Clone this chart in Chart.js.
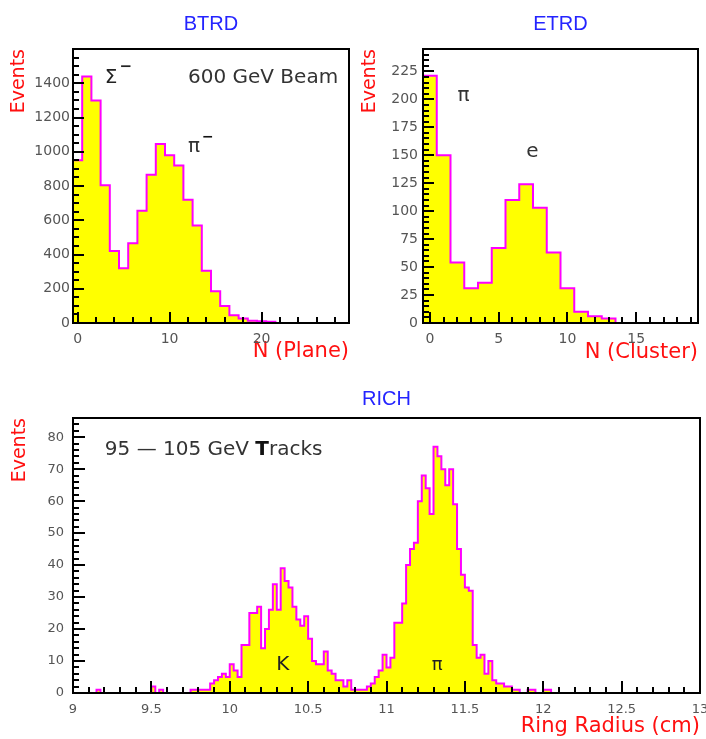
<!DOCTYPE html>
<html>
<head>
<meta charset="utf-8">
<script src="https://cdn.jsdelivr.net/npm/chart.js@4/dist/chart.umd.min.js"></script>
<style>
  html, body { margin: 0; padding: 0; background: #fff; overflow: hidden; }
  #page { position: relative; width: 706px; height: 739px; overflow: hidden; background: #fff; }
  #page canvas { position: absolute; }
</style>
</head>
<body>
<div id="page">
  <canvas id="btrd" width="353" height="370" style="left:0;top:0"></canvas>
  <canvas id="etrd" width="353" height="370" style="left:353px;top:0"></canvas>
  <canvas id="rich" width="726" height="369" style="left:0;top:370px"></canvas>
</div>
<script>
// ===============================
// DATA
// ===============================

// BTRD: number of planes fired, one bin per integer
const btrdBins = [0, 1, 2, 3, 4, 5, 6, 7, 8, 9, 10, 11, 12, 13, 14, 15, 16, 17, 18, 19, 20, 21];
const btrdCounts = [950, 1440, 1300, 805, 420, 320, 465, 655, 865, 1045, 980, 920, 720, 570, 305, 185, 100, 45, 27, 13, 10, 8];
const btrdXTicks = [0, 10, 20];
const btrdYTicks = [0, 200, 400, 600, 800, 1000, 1200, 1400];

// ETRD: number of clusters
const etrdBins = [0, 1, 2, 3, 4, 5, 6, 7, 8, 9, 10, 11, 12, 13];
const etrdCounts = [221, 150, 54, 31, 36, 67, 110, 124, 103, 63, 31, 10, 6, 4];
const etrdXTicks = [0, 5, 10, 15];
const etrdYTicks = [0, 25, 50, 75, 100, 125, 150, 175, 200, 225];

// RICH: ring radius, 0.025 cm bins from 9 to 13 cm
const richLowEdge = 9.0;
const richBinWidth = 0.025;
const richCounts = [
  0, 0, 0, 0, 0, 0, 1, 0, 0, 0,       // 9.00
  0, 0, 0, 0, 0, 0, 0, 0, 0, 0,       // 9.25
  2, 0, 1, 0, 0, 0, 0, 0, 0, 0,       // 9.50
  1, 1, 1, 1, 1, 3, 4, 5, 6, 5,       // 9.75
  9, 7, 5, 15, 15, 25, 25, 27, 14, 20, // 10.00
  26, 34, 26, 39, 35, 33, 27, 23, 21, 24, // 10.25
  17, 10, 9, 9, 13, 7, 6, 4, 4, 2,    // 10.50
  4, 1, 1, 1, 1, 2, 3, 5, 7, 12,      // 10.75
  8, 11, 22, 22, 28, 40, 45, 47, 60, 68, // 11.00
  64, 56, 77, 74, 70, 65, 70, 59, 45, 37, // 11.25
  33, 32, 15, 11, 12, 6, 10, 4, 3, 3, // 11.50
  2, 2, 1, 1, 0, 0, 1, 1, 0, 0,       // 11.75
  1, 1, 0, 0, 0, 0, 0, 0, 0, 0,       // 12.00
  0, 0, 0, 0, 0, 0, 0, 0, 0, 0,       // 12.25
  0, 0, 0, 0, 0, 0, 0, 0, 0, 0,       // 12.50
  0, 0, 0, 0, 0, 0, 0, 0, 0, 0        // 12.75
];
const richBins = richCounts.map((c, i) => richLowEdge + (i + 0.5) * richBinWidth);
const richXTicks = [9, 9.5, 10, 10.5, 11, 11.5, 12, 12.5, 13];
const richYTicks = [0, 10, 20, 30, 40, 50, 60, 70, 80];

// ===============================
// HELPERS
// ===============================

Chart.defaults.font.family = '"DejaVu Sans"';

// bin centers + counts -> left edges for a stepped line
function histPoints(centers, counts, width) {
  const pts = centers.map((c, i) => ({ x: c - width / 2, y: counts[i] }));
  pts.push({ x: centers[centers.length - 1] + width / 2, y: 0 });
  return pts;
}

function eachStep(min, max, step, fn) {
  for (let k = Math.ceil(min / step - 1e-6); k * step <= max + 1e-6; k++) {
    fn(k * step);
  }
}

function isMultiple(v, m) {
  return Math.abs(v / m - Math.round(v / m)) < 1e-6;
}

// frame + ticks pointing into the plot (bottom and left only)
const insideTicks = {
  id: 'insideTicks',
  afterDatasetsDraw(chart, args, o) {
    const { ctx, chartArea: a, scales } = chart;
    const x = scales.x, y = scales.y;
    ctx.save();
    ctx.strokeStyle = '#000';
    ctx.lineWidth = 2;
    ctx.beginPath();
    eachStep(x.min, x.max, o.xMinor, v => {
      const len = isMultiple(v, o.xMajor) ? o.majorLen : o.minorLen;
      const px = Math.round(x.getPixelForValue(v));
      ctx.moveTo(px, a.bottom);
      ctx.lineTo(px, a.bottom - len);
    });
    eachStep(y.min, y.max, o.yMinor, v => {
      const len = isMultiple(v, o.yMajor) ? o.majorLen : o.minorLen;
      const py = Math.round(y.getPixelForValue(v));
      ctx.moveTo(a.left, py);
      ctx.lineTo(a.left + len, py);
    });
    ctx.stroke();
    ctx.strokeRect(a.left, a.top, a.right - a.left, a.bottom - a.top);
    ctx.restore();
  }
};

// free text placed at data coordinates
const textNotes = {
  id: 'textNotes',
  afterDraw(chart, args, o) {
    const { ctx, scales: { x, y } } = chart;
    ctx.save();
    ctx.textBaseline = 'middle';
    ctx.textAlign = 'left';
    (o.items || []).forEach(n => {
      let cx = x.getPixelForValue(n.x);
      const cy = y.getPixelForValue(n.y);
      n.parts.forEach(p => {
        ctx.font = p.font;
        ctx.fillStyle = p.color || '#333';
        ctx.fillText(p.text, cx + (p.dx || 0), cy + (p.dy || 0));
        cx += ctx.measureText(p.text).width + (p.dx || 0);
      });
    });
    ctx.restore();
  }
};

function makeHist(id, o) {
  return new Chart(document.getElementById(id), {
    type: 'line',
    data: {
      datasets: [{
        data: histPoints(o.bins, o.counts, o.binWidth),
        stepped: true,
        borderColor: '#ff00ff',
        borderWidth: 2,
        backgroundColor: '#ffff00',
        fill: 'origin',
        pointRadius: 0,
        tension: 0
      }]
    },
    plugins: [insideTicks, textNotes],
    options: {
      responsive: false,
      animation: false,
      devicePixelRatio: 1,
      events: [],
      layout: { padding: { left: 0, right: o.padRight, top: 0, bottom: 0 } },
      plugins: {
        legend: { display: false },
        tooltip: { enabled: false },
        title: {
          display: true,
          text: o.title,
          color: '#2424ff',
          fullSize: false,
          font: { family: '"Liberation Sans"', size: 20, weight: 'normal', lineHeight: 1 },
          padding: { top: o.titleTop, bottom: o.titleBottom }
        },
        insideTicks: o.ticks,
        textNotes: { items: o.notes }
      },
      scales: {
        x: {
          type: 'linear',
          min: o.xMin,
          max: o.xMax,
          afterFit: s => { s.height = o.xAxisHeight; },
          afterBuildTicks: s => { s.ticks = o.xTicks.map(v => ({ value: v })); },
          grid: { display: false, drawTicks: false },
          border: { display: false },
          ticks: {
            color: '#555',
            font: { size: o.tickSize },
            padding: o.xTickPad,
            maxRotation: 0,
            autoSkip: false,
            callback: v => String(v)
          },
          title: {
            display: true,
            text: o.xTitle,
            align: 'end',
            color: '#ff1010',
            font: { size: 21, lineHeight: 1 },
            padding: { top: 0, bottom: o.xTitlePad }
          }
        },
        y: {
          type: 'linear',
          min: 0,
          max: o.yMax,
          afterFit: s => { s.width = o.yAxisWidth; },
          afterBuildTicks: s => { s.ticks = o.yTicks.map(v => ({ value: v })); },
          grid: { display: false, drawTicks: false },
          border: { display: false },
          ticks: {
            color: '#555',
            font: { size: o.tickSize },
            padding: o.yTickPad,
            autoSkip: false,
            callback: v => String(v)
          },
          title: {
            display: true,
            text: 'Events',
            align: 'end',
            color: '#ff1010',
            font: { size: 19, lineHeight: 1 },
            padding: { top: o.yTitlePad, bottom: 0 }
          }
        }
      }
    }
  });
}

const NOTE_FONT = '20px "DejaVu Sans"';

// ===============================
// BTRD
// ===============================
makeHist('btrd', {
  title: 'BTRD', titleTop: 14, titleBottom: 15,
  bins: btrdBins, counts: btrdCounts, binWidth: 1,
  xMin: -0.5, xMax: 29.5, yMax: 1600,
  xTicks: btrdXTicks, yTicks: btrdYTicks,
  xAxisHeight: 47, yAxisWidth: 73, padRight: 4,
  tickSize: 14, xTickPad: 8, yTickPad: 3,
  xTitle: 'N (Plane)', xTitlePad: 7.5, yTitlePad: 9.5,
  ticks: { xMinor: 2, xMajor: 10, yMinor: 50, yMajor: 200, majorLen: 11, minorLen: 6 },
  notes: [
    { x: 2.95, y: 1434, parts: [
      { text: 'Σ', font: NOTE_FONT, color: '#222' },
      { text: '−', font: 'bold 15px "DejaVu Sans"', color: '#222', dx: 2, dy: -10 }
    ] },
    { x: 12.0, y: 1431, parts: [{ text: '600 GeV Beam', font: NOTE_FONT }] },
    { x: 12.0, y: 1028, parts: [
      { text: 'π', font: NOTE_FONT },
      { text: '−', font: 'bold 14px "DejaVu Sans"', color: '#111', dx: 2, dy: -10 }
    ] }
  ]
});

// ===============================
// ETRD
// ===============================
makeHist('etrd', {
  title: 'ETRD', titleTop: 14, titleBottom: 15,
  bins: etrdBins, counts: etrdCounts, binWidth: 1,
  xMin: -0.5, xMax: 19.5, yMax: 245,
  xTicks: etrdXTicks, yTicks: etrdYTicks,
  xAxisHeight: 47, yAxisWidth: 70, padRight: 8,
  tickSize: 14, xTickPad: 8, yTickPad: 5,
  xTitle: 'N (Cluster)', xTitlePad: 6.5, yTitlePad: 8,
  ticks: { xMinor: 1, xMajor: 5, yMinor: 5, yMajor: 25, majorLen: 11, minorLen: 6 },
  notes: [
    { x: 2.0, y: 203, parts: [{ text: 'π', font: NOTE_FONT }] },
    { x: 7.0, y: 153, parts: [{ text: 'e', font: NOTE_FONT }] }
  ]
});

// ===============================
// RICH
// ===============================
makeHist('rich', {
  title: 'RICH', titleTop: 19, titleBottom: 9,
  bins: richBins, counts: richCounts, binWidth: richBinWidth,
  xMin: 9, xMax: 13, yMax: 86,
  xTicks: richXTicks, yTicks: richYTicks,
  xAxisHeight: 46, yAxisWidth: 73, padRight: 26,
  tickSize: 13, xTickPad: 9, yTickPad: 9,
  xTitle: 'Ring Radius (cm)', xTitlePad: 1.5, yTitlePad: 10.5,
  ticks: { xMinor: 0.1, xMajor: 0.5, yMinor: 2, yMajor: 10, majorLen: 12, minorLen: 6 },
  notes: [
    { x: 9.203, y: 76, parts: [
      { text: '95 — 105 GeV ', font: NOTE_FONT },
      { text: 'T', font: 'bold ' + NOTE_FONT, color: '#111' },
      { text: 'racks', font: NOTE_FONT }
    ] },
    { x: 10.297, y: 8.9, parts: [{ text: 'K', font: NOTE_FONT, color: '#222' }] },
    { x: 11.289, y: 8.6, parts: [{ text: 'π', font: '18px "DejaVu Sans"', color: '#222' }] }
  ]
});
</script>
</body>
</html>
